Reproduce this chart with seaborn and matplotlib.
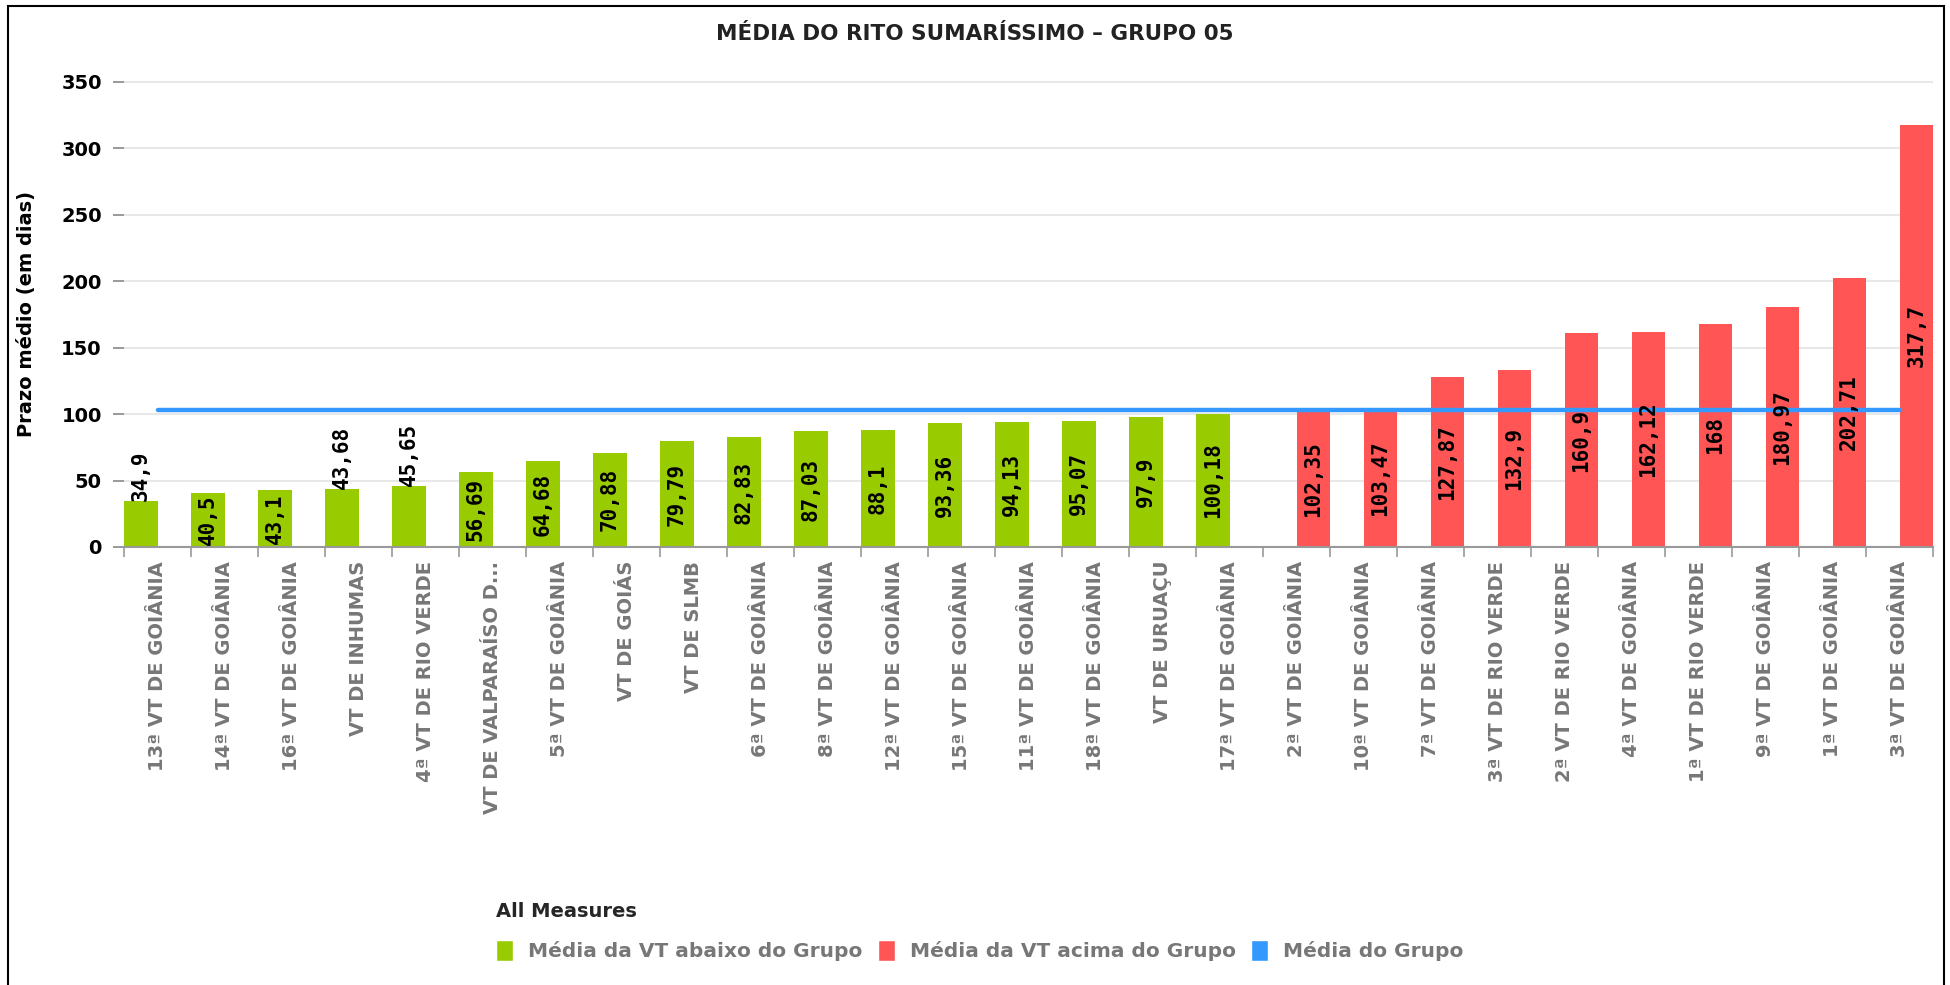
import matplotlib
matplotlib.use("Agg")
import matplotlib.pyplot as plt
from matplotlib.patches import Patch, Rectangle
import pandas as pd
import seaborn as sns

# varas abaixo da média do grupo (verde)
varas_abaixo = [
    "13ª VT DE GOIÂNIA", "14ª VT DE GOIÂNIA", "16ª VT DE GOIÂNIA",
    "VT DE INHUMAS", "4ª VT DE RIO VERDE", "VT DE VALPARAÍSO D...",
    "5ª VT DE GOIÂNIA", "VT DE GOIÁS", "VT DE SLMB", "6ª VT DE GOIÂNIA",
    "8ª VT DE GOIÂNIA", "12ª VT DE GOIÂNIA", "15ª VT DE GOIÂNIA",
    "11ª VT DE GOIÂNIA", "18ª VT DE GOIÂNIA", "VT DE URUAÇU",
    "17ª VT DE GOIÂNIA",
]
prazo_abaixo = [34.9, 40.5, 43.1, 43.68, 45.65, 56.69, 64.68, 70.88, 79.79,
                82.83, 87.03, 88.1, 93.36, 94.13, 95.07, 97.9, 100.18]

# varas acima da média do grupo (vermelho)
varas_acima = [
    "2ª VT DE GOIÂNIA", "10ª VT DE GOIÂNIA", "7ª VT DE GOIÂNIA",
    "3ª VT DE RIO VERDE", "2ª VT DE RIO VERDE", "4ª VT DE GOIÂNIA",
    "1ª VT DE RIO VERDE", "9ª VT DE GOIÂNIA", "1ª VT DE GOIÂNIA",
    "3ª VT DE GOIÂNIA",
]
prazo_acima = [102.35, 103.47, 127.87, 132.9, 160.9, 162.12, 168, 180.97,
               202.71, 317.7]

media_grupo = 103.1

rotulo_abaixo = "Média da VT abaixo do Grupo"
rotulo_acima = "Média da VT acima do Grupo"
rotulo_media = "Média do Grupo"
titulo = "MÉDIA DO RITO SUMARÍSSIMO – GRUPO 05"

verde = "#99cc00"
vermelho = "#ff5555"
azul = "#3399ff"
cinza = "#777777"

df = pd.DataFrame({
    "vara": varas_abaixo + varas_acima,
    "prazo": prazo_abaixo + prazo_acima,
    "grupo": [rotulo_abaixo] * len(varas_abaixo) + [rotulo_acima] * len(varas_acima),
})
n = len(df)

sns.set_theme(style="white")
plt.rcParams["font.family"] = ["DejaVu Sans"]

W, H = 1950, 985
fig = plt.figure(figsize=(W / 100, H / 100), dpi=100)
ax = fig.add_axes([124 / W, 1 - 547 / H, 1809 / W, (547 - 66) / H])

sns.barplot(data=df, x="vara", y="prazo", hue="grupo",
            hue_order=[rotulo_abaixo, rotulo_acima],
            palette=[verde, vermelho], width=1.0, dodge=True, saturation=1,
            linewidth=0, errorbar=None, legend=False, ax=ax)
sns.lineplot(x=df["vara"], y=[media_grupo] * n, color=azul, linewidth=3.2,
             legend=False, ax=ax)

ax.set_xlim(-0.5, n - 0.5)
ax.set_ylim(0, 362)
ax.set_yticks(range(0, 351, 50))
ax.set_xticks([i - 0.5 for i in range(n + 1)], minor=True)

for s in ["top", "right", "left"]:
    ax.spines[s].set_visible(False)
ax.spines["bottom"].set_color("#999999")
ax.spines["bottom"].set_linewidth(1.5)
ax.yaxis.grid(True, color="#e8e8e8", linewidth=1.5)
ax.set_axisbelow(True)

ax.tick_params(axis="x", which="major", length=0, pad=10, labelrotation=90,
               labelsize=14, labelcolor=cinza)
ax.tick_params(axis="x", which="minor", length=7, width=1.2, color="#999999",
               direction="out", bottom=True)
ax.tick_params(axis="y", length=8, width=1.2, color="#888888", direction="out",
               pad=8, labelsize=14, labelcolor="black", left=True)
for lbl in ax.get_xticklabels() + ax.get_yticklabels():
    lbl.set_fontweight("bold")

ax.set_xlabel("")
ax.set_ylabel("Prazo médio (em dias)", fontsize=14, fontweight="bold", color="black")
ax.yaxis.label.set_va("center")
ax.yaxis.set_label_coords((27 - 124) / 1809, 0.484)

# rótulos de valor: no meio da barra, ou acima se não couber
fig.canvas.draw()
rend = fig.canvas.get_renderer()
for cont, vals in zip(ax.containers, [prazo_abaixo, prazo_acima]):
    barras = [b for b in cont if b.get_height() > 0]
    for barra, v in zip(barras, vals):
        h = barra.get_height()
        txt = ax.text(barra.get_x() + barra.get_width() / 2, h / 2,
                      f"{v:g}".replace(".", ","), rotation=90,
                      ha="center", va="center", family="DejaVu Sans Mono",
                      fontweight="bold", fontsize=15, color="black")
        alt = ax.transData.transform((0, h))[1] - ax.transData.transform((0, 0))[1]
        if txt.get_window_extent(rend).height > alt - 2:
            txt.set_y(h)
            txt.set_va("bottom")

fig.text(0.5, 1 - 34 / H, titulo, ha="center", va="center",
         fontsize=15.5, fontweight="bold", color="#222222")

handles = [Patch(facecolor=verde), Patch(facecolor=vermelho), Patch(facecolor=azul)]
fig.legend(handles, [rotulo_abaixo, rotulo_acima, rotulo_media],
           title="All Measures", loc="upper left",
           bbox_to_anchor=(478 / W, 1 - 884 / H), ncol=3, frameon=False,
           handlelength=0.85, handleheight=1.2, handletextpad=0.75,
           columnspacing=0.75, labelspacing=0.95, alignment="left",
           title_fontproperties={"weight": "bold", "size": 14},
           prop={"weight": "bold", "size": 14.5}, labelcolor=cinza)

fig.add_artist(Rectangle((8 / W, -0.01), (1944 - 8) / W, 1 - 6 / H + 0.01,
                         transform=fig.transFigure, fill=False,
                         edgecolor="black", linewidth=1.5))

fig.savefig("out.png", dpi=100)
